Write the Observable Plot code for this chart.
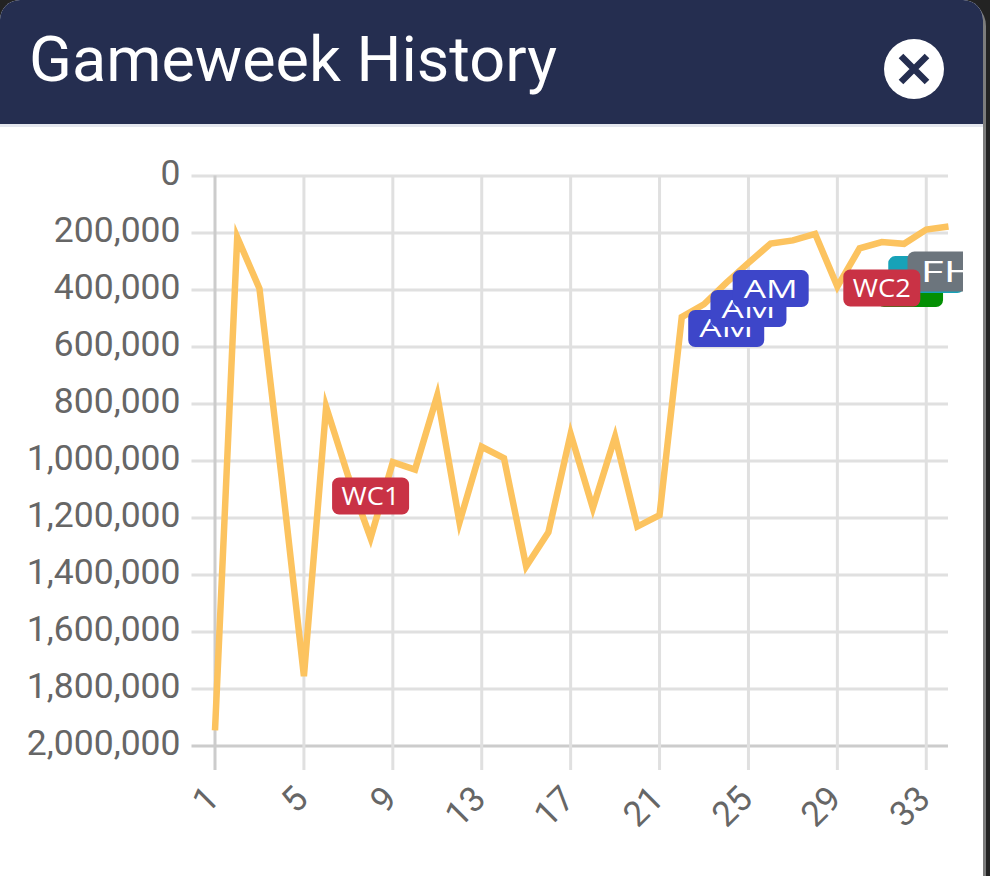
<!DOCTYPE html>
<html>
<head>
<meta charset="utf-8">
<script src="https://cdn.jsdelivr.net/npm/d3@7"></script>
<script src="https://cdn.jsdelivr.net/npm/@observablehq/plot@0.6"></script>
<style>
  html, body { margin: 0; padding: 0; width: 990px; height: 876px; overflow: hidden; background: #232323; }
  #edge { position: absolute; left: 960px; top: 0; width: 26px; height: 876px; background: #7c7c7c; border-radius: 0 26px 0 0; }
  #panel { position: absolute; left: 0; top: 0; width: 983px; height: 876px; background: #fff; border-radius: 20px 20px 0 0; overflow: hidden; }
  #head { position: absolute; left: 0; top: 0; width: 983px; height: 124px; background: #252e50; border-bottom: 3px solid #e4e7ee; }
  #title { position: absolute; left: 29px; top: 23px; margin: 0; font: 400 63px/74px Roboto, sans-serif; color: #fff; white-space: nowrap; }
  #close { position: absolute; left: 884px; top: 39px; width: 60px; height: 60px; }
  #chart { position: absolute; left: 0; top: 127px; }
</style>
</head>
<body>
<div id="edge"></div>
<div id="panel">
  <div id="head">
    <h1 id="title">Gameweek History</h1>
    <svg id="close" viewBox="0 0 60 60"><circle cx="30" cy="30" r="30" fill="#fff"/><path d="M17 17L43 43M43 17L17 43" stroke="#252e50" stroke-width="6.5"/></svg>
  </div>
  <div id="chart"></div>
</div>
<script>
const gameweeks = d3.range(1, 35);
const overallRank = [1945000, 215000, 395000, 1060000, 1755000, 810000, 1055000, 1270000, 1004000, 1030000, 770000, 1215000, 950000, 990000, 1370000, 1250000, 905000, 1165000, 915000, 1230000, 1190000, 495000, 450000, 375000, 305000, 237000, 226000, 203000, 388000, 254000, 232000, 238000, 188000, 177000];
const xTicks = [1, 5, 9, 13, 17, 21, 25, 29, 33];
const yTicks = [0, 200000, 400000, 600000, 800000, 1000000, 1200000, 1400000, 1600000, 1800000, 2000000];

const chipNames = ["WC1", "AM", "AM", "AM", "BB", "TC", "FH", "WC2"];
const chipWeeks = [8, 24, 25, 26, 32.27, 33, 34, 31];
const chipRanks = [1123000, 535000, 465000, 395000, 395000, 346000, 335000, 393000];
const chipColors = ["#c93245", "#3d46c9", "#3d46c9", "#3d46c9", "#038f03", "#17a2b8", "#6c757d", "#c93245"];
const chipWidths = [77, 76, 76, 76, 66, 76, 82, 77];
const chipTextWidths = [58, 54, 54, 54, 0, 0, 56, 58];

const badge = (w, h, r) => ({
  draw(c) {
    const x = -w / 2, y = -h / 2;
    c.moveTo(x + r, y);
    c.arcTo(x + w, y, x + w, y + h, r);
    c.arcTo(x + w, y + h, x, y + h, r);
    c.arcTo(x, y + h, x, y, r);
    c.arcTo(x, y, x + w, y, r);
    c.closePath();
  }
});

const rows = gameweeks.map((g, i) => ({ g, rank: overallRank[i] }));
const gridColor = "#e0e0e0";
const axisColor = "#cccccc";

const stretch = (len) => function (index, scales, values, dimensions, context, next) {
  const g = next(index, scales, values, dimensions, context);
  g.querySelectorAll("text").forEach((t) => {
    t.setAttribute("textLength", len);
    t.setAttribute("lengthAdjust", "spacingAndGlyphs");
  });
  return g;
};

const chipMarks = chipNames.flatMap((name, i) => {
  const d = [{ g: chipWeeks[i], rank: chipRanks[i] }];
  const big = name === "FH";
  const out = [Plot.dot(d, { x: "g", y: "rank", r: 10, fill: chipColors[i], stroke: "none", symbol: badge(chipWidths[i], big ? 40 : 37, 7) })];
  if (chipTextWidths[i] > 0) {
    out.push(Plot.text([name], { x: () => chipWeeks[i], y: () => chipRanks[i], text: (t) => t, fill: "#fff", fontFamily: "'Open Sans', sans-serif", fontSize: big ? 29 : 25, dy: 1, render: stretch(chipTextWidths[i]) }));
  }
  return out;
});

const chart = Plot.plot({
  width: 963,
  height: 749,
  marginTop: 48.5,
  marginBottom: 130.5,
  marginLeft: 214.5,
  marginRight: 15,
  style: { background: "transparent", overflow: "hidden" },
  x: { type: "linear", domain: [1, 34] },
  y: { domain: [2000000, 0] },
  marks: [
    Plot.ruleY(yTicks, { stroke: (d) => d === 2000000 ? axisColor : gridColor, strokeWidth: 3, insetLeft: -23 }),
    Plot.ruleX(xTicks, { stroke: (d) => d === 1 ? axisColor : gridColor, strokeWidth: 3, insetBottom: -24.5 }),
    Plot.axisY({ ticks: yTicks, tickSize: 0, tickPadding: 34.5, tickFormat: d3.format(","), fontSize: 35.5, fontFamily: "Roboto, sans-serif", fill: "#666", label: null, dy: -2 }),
    Plot.axisX({ ticks: xTicks, tickSize: 0, tickPadding: 47, tickRotate: -45, tickFormat: String, fontSize: 35, fontFamily: "Roboto, sans-serif", fill: "#666", label: null, dx: -2 }),
    Plot.line(rows, { x: "g", y: "rank", stroke: "#fcc35f", strokeWidth: 6.5, strokeLinejoin: "miter", strokeLinecap: "butt", strokeMiterlimit: 10, curve: "linear" }),
    ...chipMarks
  ]
});
document.getElementById("chart").appendChild(chart);
</script>
</body>
</html>
